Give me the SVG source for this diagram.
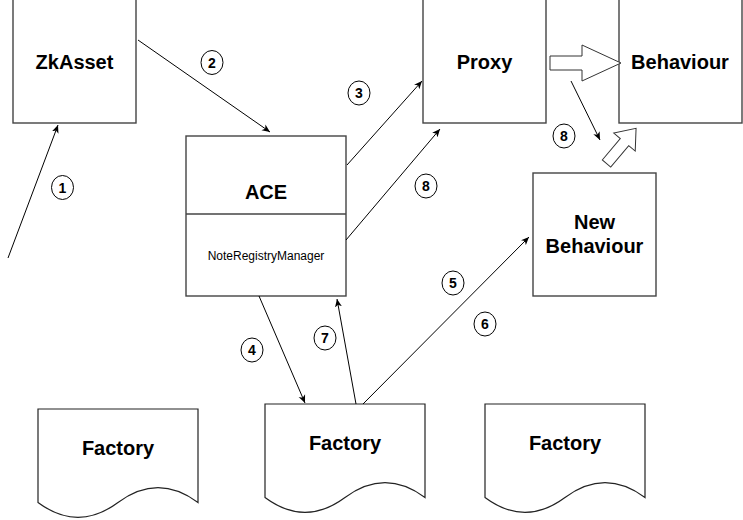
<svg xmlns="http://www.w3.org/2000/svg" width="743" height="520" viewBox="0 0 743 520">
<style>
.box{fill:#fff;stroke:#444;stroke-width:1.4}
.doc{fill:#fff;stroke:#222;stroke-width:1.2}
.big{font-family:"Liberation Sans",Arial,sans-serif;font-weight:bold;font-size:20px;fill:#000;text-anchor:middle;dominant-baseline:central}
.small{font-family:"Liberation Sans",Arial,sans-serif;font-size:12px;fill:#000;text-anchor:middle;dominant-baseline:central}
.num ellipse{fill:#fff;stroke:#000;stroke-width:1}
.num text{font-family:"Liberation Sans",Arial,sans-serif;font-weight:bold;font-size:14px;fill:#000;text-anchor:middle;dominant-baseline:central}
.edge{fill:none;stroke:#000;stroke-width:1;marker-end:url(#arr)}
.block{fill:#fff;stroke:#333;stroke-width:1}
</style>
<defs>
<marker id="arr" markerUnits="userSpaceOnUse" markerWidth="9" markerHeight="8" refX="8" refY="4" orient="auto">
<path d="M0,0.5 L8,4 L0,7.5 L2.2,4 z" fill="#000"/>
</marker>
</defs>
<rect width="743" height="520" fill="#fff"/>

<g id="zkasset"><rect class="box" x="13" y="-2" width="123" height="125"/><text class="big" x="74.5" y="62">ZkAsset</text></g>
<g id="proxy"><rect class="box" x="423" y="-2" width="123" height="125"/><text class="big" x="484.5" y="62">Proxy</text></g>
<g id="behaviour"><rect class="box" x="619" y="-2" width="123" height="125"/><text class="big" x="680" y="62">Behaviour</text></g>
<g id="ace"><rect class="box" x="186" y="136" width="160" height="160"/><line x1="186" y1="214" x2="346" y2="214" stroke="#444" stroke-width="1.4"/><text class="big" x="266" y="192">ACE</text><text class="small" x="266" y="256">NoteRegistryManager</text></g>
<g id="newbehaviour"><rect class="box" x="533" y="173" width="123" height="123"/><text class="big" x="594.5" y="222">New</text><text class="big" x="594.5" y="246">Behaviour</text></g>

<g id="factory1"><path class="doc" d="M38,409 H198 V502.5 Q158,472.8 118,502.5 Q78,532.2 38,502.5 Z"/><text class="big" x="118" y="448">Factory</text></g>
<g id="factory2"><path class="doc" d="M265,404 H425 V497.5 Q385,467.8 345,497.5 Q305,527.2 265,497.5 Z"/><text class="big" x="345" y="443">Factory</text></g>
<g id="factory3"><path class="doc" d="M485,404 H645 V497.5 Q605,467.8 565,497.5 Q525,527.2 485,497.5 Z"/><text class="big" x="565" y="443">Factory</text></g>

<g id="blockarrows">
<polygon class="block" points="550,56 582,56 582,45 621,63 582,81 582,70 550,70"/>
<polygon class="block" transform="translate(606.5,163.5) rotate(-50)" points="0,-5.5 28,-5.5 28,-14 46,0 28,14 28,5.5 0,5.5"/>
</g>

<g id="connectors">
<line class="edge" x1="8" y1="258" x2="58" y2="125"/>
<line class="edge" x1="138" y1="40" x2="270" y2="132"/>
<line class="edge" x1="347" y1="165" x2="422" y2="81"/>
<line class="edge" x1="346" y1="240" x2="440" y2="129"/>
<line class="edge" x1="571" y1="81" x2="600" y2="140"/>
<line class="edge" x1="259" y1="296" x2="305" y2="403"/>
<line class="edge" x1="356" y1="404" x2="337" y2="299"/>
<line class="edge" x1="363" y1="404" x2="529" y2="237"/>
</g>

<g id="labels">
<g class="num"><ellipse cx="62.5" cy="187.5" rx="11" ry="12"/><text x="62.5" y="187.5">1</text></g>
<g class="num"><ellipse cx="212" cy="62.5" rx="11" ry="12"/><text x="212" y="62.5">2</text></g>
<g class="num"><ellipse cx="359" cy="93" rx="11" ry="12"/><text x="359" y="93">3</text></g>
<g class="num"><ellipse cx="252" cy="350" rx="11" ry="12"/><text x="252" y="350">4</text></g>
<g class="num"><ellipse cx="453" cy="283" rx="11" ry="12"/><text x="453" y="283">5</text></g>
<g class="num"><ellipse cx="485" cy="324" rx="11" ry="12"/><text x="485" y="324">6</text></g>
<g class="num"><ellipse cx="325" cy="338" rx="11" ry="12"/><text x="325" y="338">7</text></g>
<g class="num"><ellipse cx="426" cy="186" rx="11" ry="12"/><text x="426" y="186">8</text></g>
<g class="num"><ellipse cx="564" cy="136" rx="11" ry="12"/><text x="564" y="136">8</text></g>
</g>
</svg>
